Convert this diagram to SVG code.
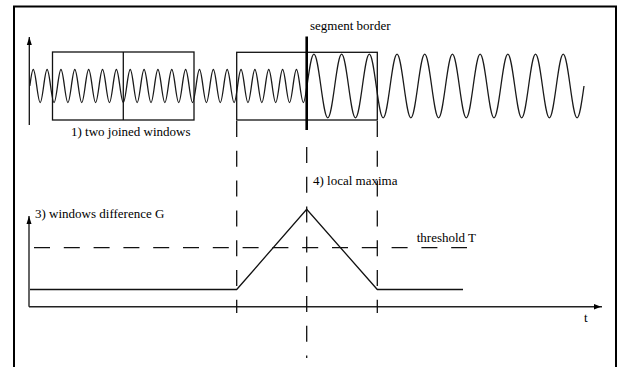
<svg xmlns="http://www.w3.org/2000/svg" width="619" height="367" viewBox="0 0 619 367">
<style>
.t{font-family:"Liberation Serif","DejaVu Serif","Times New Roman",serif;font-size:13px;fill:#000}
.ln{stroke:#111;stroke-width:1.3;fill:none}
.dash{stroke:#111;stroke-width:1.3;fill:none;stroke-dasharray:16 13.8}
.wave{stroke:#1a1a1a;stroke-width:1.3;fill:none;stroke-linejoin:round}
</style>
<defs>
<marker id="arr" markerUnits="userSpaceOnUse" markerWidth="9" markerHeight="6" refX="8" refY="3" orient="auto">
<path d="M0,0.5 L8,3 L0,5.5 z" fill="#000"/>
</marker>
</defs>
<rect width="619" height="367" fill="#fff"/>
<g id="frame"><rect x="14" y="6.5" width="602" height="400" fill="none" stroke="#000" stroke-width="2"/></g>

<g id="signal">
<line class="ln" x1="29.3" y1="125" x2="29.3" y2="37" marker-end="url(#arr)"/>
<path class="wave" d="M29.8,86 c1.158,-8.664 2.216,-16.5 3.463,-16.5 s2.305,7.836 3.463,16.5 2.216,16.5 3.463,16.5 2.305,-7.836 3.463,-16.5 2.216,-16.5 3.463,-16.5 2.305,7.836 3.463,16.5 2.216,16.5 3.463,16.5 2.305,-7.836 3.463,-16.5 2.216,-16.5 3.463,-16.5 2.305,7.836 3.463,16.5 2.216,16.5 3.463,16.5 2.305,-7.836 3.463,-16.5 2.216,-16.5 3.463,-16.5 2.305,7.836 3.463,16.5 2.216,16.5 3.463,16.5 2.305,-7.836 3.463,-16.5 2.216,-16.5 3.463,-16.5 2.305,7.836 3.463,16.5 2.216,16.5 3.463,16.5 2.305,-7.836 3.463,-16.5 2.216,-16.5 3.463,-16.5 2.305,7.836 3.463,16.5 2.216,16.5 3.463,16.5 2.305,-7.836 3.463,-16.5 2.216,-16.5 3.463,-16.5 2.305,7.836 3.463,16.5 2.216,16.5 3.463,16.5 2.305,-7.836 3.463,-16.5 2.216,-16.5 3.463,-16.5 2.305,7.836 3.463,16.5 2.216,16.5 3.463,16.5 2.305,-7.836 3.463,-16.5 2.216,-16.5 3.463,-16.5 2.305,7.836 3.463,16.5 2.216,16.5 3.463,16.5 2.305,-7.836 3.463,-16.5 2.216,-16.5 3.463,-16.5 2.305,7.836 3.463,16.5 2.216,16.5 3.463,16.5 2.305,-7.836 3.463,-16.5 2.216,-16.5 3.463,-16.5 2.305,7.836 3.463,16.5 2.216,16.5 3.463,16.5 2.305,-7.836 3.463,-16.5 2.216,-16.5 3.463,-16.5 2.305,7.836 3.463,16.5 2.216,16.5 3.463,16.5 2.305,-7.836 3.463,-16.5 2.216,-16.5 3.463,-16.5 2.305,7.836 3.463,16.5 2.216,16.5 3.463,16.5 2.305,-7.836 3.463,-16.5 2.216,-16.5 3.463,-16.5 2.305,7.836 3.463,16.5 2.216,16.5 3.463,16.5 2.305,-7.836 3.463,-16.5 2.216,-16.5 3.463,-16.5 2.305,7.836 3.463,16.5 2.216,16.5 3.463,16.5 2.305,-7.836 3.463,-16.5 2.216,-16.5 3.463,-16.5 2.305,7.836 3.463,16.5 2.216,16.5 3.463,16.5 2.305,-7.836 3.463,-16.5 2.216,-16.5 3.463,-16.5 2.305,7.836 3.463,16.5 2.216,16.5 3.463,16.5 2.305,-7.836 3.463,-16.5 2.216,-16.5 3.463,-16.5 2.305,7.836 3.463,16.5 2.216,16.5 3.463,16.5 2.305,-7.836 3.463,-16.5 2.216,-16.5 3.463,-16.5 2.305,7.836 3.463,16.5 2.216,16.5 3.463,16.5 2.305,-7.836 3.463,-16.5 2.216,-16.5 3.463,-16.5 2.305,7.836 3.463,16.5 2.216,16.5 3.463,16.5 2.305,-7.836 3.463,-16.5 M307,86 c2.315,-16.7 4.432,-31.8 6.925,-31.8 s4.61,15.1 6.925,31.8 4.432,31.8 6.925,31.8 4.61,-15.1 6.925,-31.8 4.432,-31.8 6.925,-31.8 4.61,15.1 6.925,31.8 4.432,31.8 6.925,31.8 4.61,-15.1 6.925,-31.8 4.432,-31.8 6.925,-31.8 4.61,15.1 6.925,31.8 4.432,31.8 6.925,31.8 4.61,-15.1 6.925,-31.8 4.432,-31.8 6.925,-31.8 4.61,15.1 6.925,31.8 4.432,31.8 6.925,31.8 4.61,-15.1 6.925,-31.8 4.432,-31.8 6.925,-31.8 4.61,15.1 6.925,31.8 4.432,31.8 6.925,31.8 4.61,-15.1 6.925,-31.8 4.432,-31.8 6.925,-31.8 4.61,15.1 6.925,31.8 4.432,31.8 6.925,31.8 4.61,-15.1 6.925,-31.8 4.432,-31.8 6.925,-31.8 4.61,15.1 6.925,31.8 4.432,31.8 6.925,31.8 4.61,-15.1 6.925,-31.8 4.432,-31.8 6.925,-31.8 4.61,15.1 6.925,31.8 4.432,31.8 6.925,31.8 4.61,-15.1 6.925,-31.8 4.432,-31.8 6.925,-31.8 4.61,15.1 6.925,31.8 4.432,31.8 6.925,31.8 4.61,-15.1 6.925,-31.8 4.432,-31.8 6.925,-31.8 4.61,15.1 6.925,31.8 4.432,31.8 6.925,31.8 4.61,-15.1 6.925,-31.8"/>
</g>

<g id="joined-windows">
<rect class="ln" x="52.5" y="52" width="141.5" height="68"/>
<line class="ln" x1="123.3" y1="52" x2="123.3" y2="120"/>
<text class="t" font-family="Liberation Serif, DejaVu Serif, serif" x="71" y="136">1) two joined windows</text>
</g>

<g id="window-pair">
<rect class="ln" x="236.7" y="52.3" width="140.6" height="67.7"/>
</g>

<g id="segment-border">
<line x1="306.7" y1="36.5" x2="306.7" y2="130" stroke="#000" stroke-width="2.6"/>
<text class="t" font-family="Liberation Serif, DejaVu Serif, serif" x="310" y="30">segment border</text>
</g>

<g id="difference-graph">
<line class="ln" x1="29" y1="306.7" x2="29" y2="216" marker-end="url(#arr)"/>
<line x1="29" y1="306.7" x2="602" y2="306.7" stroke="#222" stroke-width="1.6"/>
<path d="M594,304 L601,306.7 L594,309.4 z" fill="#000"/>
<text class="t" font-family="Liberation Serif, DejaVu Serif, serif" x="35" y="218">3) windows difference G</text>
<text class="t" font-family="Liberation Serif, DejaVu Serif, serif" x="584" y="322">t</text>
<polyline class="ln" points="30,289.5 236.7,289.5 306.7,209.3 377.3,289.5 463,289.5"/>
</g>

<g id="threshold">
<line class="dash" x1="34" y1="247.7" x2="467" y2="247.7"/>
<text class="t" font-family="Liberation Serif, DejaVu Serif, serif" x="416.7" y="241.7">threshold T</text>
</g>

<g id="local-maxima">
<text class="t" font-family="Liberation Serif, DejaVu Serif, serif" x="313" y="185">4) local maxima</text>
</g>

<g id="connectors">
<line class="dash" x1="236.7" y1="121" x2="236.7" y2="313"/>
<line class="dash" x1="306.7" y1="147" x2="306.7" y2="358"/>
<line class="dash" x1="377.3" y1="121" x2="377.3" y2="313"/>
</g>
</svg>
